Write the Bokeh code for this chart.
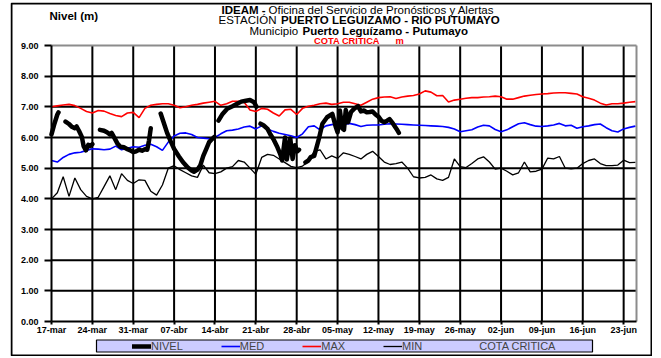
from bokeh.plotting import figure
from bokeh.models import (FixedTicker, Label, Legend, LegendItem, BoxAnnotation,
                          Range1d, PrintfTickFormatter)
from bokeh.embed import file_html
from bokeh.resources import INLINE

NaN = float("nan")

# ---- data (days counted from 17-mar) ----
dias = list(range(101))

med = [5.25, 5.20, 5.35, 5.45, 5.50, 5.52, 5.58, 5.63, 5.62, 5.60,
       5.62, 5.72, 5.60, 5.65, 5.70, 5.68, 5.75, 5.78, 5.70, 5.58,
       5.85, 6.05, 6.14, 6.15, 6.10, 6.00, 5.98, 5.96, 6.00, 6.12,
       6.22, 6.24, 6.28, 6.34, 6.37, 6.28, 6.38, 6.28, 6.20, 6.14,
       6.10, 6.06, 6.00, 6.12, 6.35, 6.38, 6.25, 6.38, 6.42, 6.44,
       6.42, 6.46, 6.42, 6.36, 6.40, 6.41, 6.41, 6.43, 6.45, 6.44,
       6.43, 6.42, 6.41, 6.40, 6.39, 6.38, 6.37, 6.36, 6.33, 6.28,
       6.19, 6.22, 6.25, 6.34, 6.40, 6.38, 6.26, 6.19, 6.25, 6.35,
       6.45, 6.48, 6.42, 6.37, 6.36, 6.38, 6.41, 6.46, 6.38, 6.40,
       6.30, 6.35, 6.38, 6.42, 6.44, 6.32, 6.22, 6.18, 6.28, 6.33,
       6.37]

maximo = [7.00, 7.03, 7.06, 7.08, 7.04, 6.95, 6.85, 6.80, 6.88, 6.86,
          6.78, 6.72, 6.68, 6.80, 6.82, 6.65, 6.95, 7.05, 7.08, 7.10,
          7.10, 7.05, 6.97, 7.00, 7.05, 7.08, 7.12, 7.15, 7.18, 7.05,
          7.10, 7.18, 7.18, 7.15, 6.90, 6.85, 6.95, 6.92, 6.80, 6.70,
          6.90, 6.92, 6.75, 6.95, 7.02, 7.05, 7.10, 7.12, 7.08, 7.10,
          7.15, 7.15, 7.10, 7.05, 7.15, 7.25, 7.30, 7.32, 7.33, 7.27,
          7.32, 7.35, 7.37, 7.42, 7.52, 7.48, 7.36, 7.37, 7.16, 7.22,
          7.25, 7.28, 7.30, 7.30, 7.32, 7.33, 7.35, 7.33, 7.25, 7.25,
          7.30, 7.35, 7.38, 7.40, 7.42, 7.43, 7.45, 7.46, 7.46, 7.44,
          7.42, 7.33, 7.28, 7.22, 7.12, 7.06, 7.10, 7.10, 7.12, 7.15,
          7.17]

minimo = [4.00, 4.20, 4.72, 4.08, 4.68, 4.30, 4.08, 4.00, 4.05, 4.40,
          4.75, 4.30, 4.82, 4.60, 4.50, 4.62, 4.60, 4.25, 4.12, 4.45,
          5.00, 5.08, 4.95, 4.85, 4.75, 4.70, 5.10, 4.85, 4.82, 4.88,
          5.00, 5.05, 5.25, 5.20, 5.00, 4.80, 5.35, 5.45, 5.42, 5.30,
          5.18, 5.06, 5.02, 5.07, 5.22, 5.55, 5.60, 5.30, 5.40, 5.32,
          5.50, 5.45, 5.38, 5.30, 5.45, 5.55, 5.38, 5.20, 5.12, 5.15,
          5.20, 5.00, 4.72, 4.68, 4.70, 4.78, 4.65, 4.60, 4.70, 5.30,
          5.05, 5.02, 5.15, 5.30, 5.37, 5.20, 4.97, 5.00, 4.90, 4.78,
          4.85, 5.20, 4.88, 4.90, 4.97, 5.33, 5.30, 5.38, 5.00, 4.98,
          5.00, 5.15, 5.25, 5.30, 5.15, 5.08, 5.08, 5.10, 5.26, 5.18,
          5.19]

nivel_dia = [0.0, 0.5, 1.0, 1.2, NaN,
             2.4, 3.0, 3.5, 4.0, 4.3, 4.7, 5.2, 5.5, 5.9, 6.3, 6.6, 7.0, NaN,
             8.3, 9.0, 9.5, 10.0, 10.3, 10.8, 11.3, 11.8, 12.4, 13.0, 13.5,
             14.0, 14.5, 15.0, 15.5, 16.0, 16.4, 16.7, 17.0, NaN,
             18.7, 19.2, 19.8, 20.4, 21.0, 21.8, 22.5, 23.3, 24.0, 24.4, 25.0,
             25.5, 26.0, 26.5, 27.0, 27.5, 27.9, NaN,
             28.6, 29.3, 30.1, 31.0, 31.8, 32.5, 33.3, 34.0, 34.7, 35.1, NaN,
             35.8, 36.3, 37.0, 37.5, 38.0, 38.7, 39.2, 39.5, 40.0, 40.3, 40.9,
             41.3, 41.7, 42.1, 42.4, NaN,
             43.5, 44.0, 44.4, 45.0, 45.8, 46.4, 47.2, 48.1, 48.7, 49.0, 49.4,
             49.8, 50.1, 50.4, 50.8, 51.3, 51.9, 52.5, 53.0, 53.5, 54.0, 54.5,
             55.0, 55.5, 56.0, 56.5, 57.0, 57.5, 57.9, 58.5, 59.1, 59.5]
nivel_valor = [6.10, 6.45, 6.75, 6.82, NaN,
               6.52, 6.44, 6.35, 6.30, 6.36, 6.22, 6.02, 5.72, 5.58, 5.76, 5.72, 5.78, NaN,
               6.25, 6.22, 6.17, 6.10, 6.15, 5.98, 5.80, 5.70, 5.68, 5.62, 5.58,
               5.52, 5.55, 5.60, 5.57, 5.62, 5.60, 5.90, 6.30, NaN,
               6.78, 6.50, 6.15, 5.88, 5.63, 5.39, 5.20, 5.03, 4.92, 4.88, 4.95,
               5.10, 5.40, 5.62, 5.85, 5.95, 6.02, NaN,
               6.55, 6.77, 6.94, 7.02, 7.10, 7.17, 7.20, 7.22, 7.15, 7.00, NaN,
               6.45, 6.40, 6.28, 6.10, 5.95, 5.68, 5.45, 5.25, 6.00, 5.28, 5.97,
               5.30, 5.75, 5.55, 5.60, NaN,
               5.19, 5.25, 5.36, 5.40, 5.96, 6.45, 6.66, 6.77, 6.34, 6.17, 6.88,
               6.30, 6.25, 6.90, 6.50, 6.83, 6.95, 7.02, 6.85, 6.88, 6.82, 6.83,
               6.85, 6.75, 6.68, 6.55, 6.50, 6.55, 6.60, 6.45, 6.28, 6.15]

cota_dia = []      # the critical level has no value drawn in the chart
cota_valor = []

tick_dias = [0, 7, 14, 21, 28, 35, 42, 49, 56, 63, 70, 77, 84, 91, 98]
tick_etiquetas = ["17-mar", "24-mar", "31-mar", "07-abr", "14-abr", "21-abr",
                  "28-abr", "05-may", "12-may", "19-may", "26-may", "02-jun",
                  "09-jun", "16-jun", "23-jun"]
y_ticks = [0, 1, 2, 3, 4, 5, 6, 7, 8, 9]

# ---- layout (pixels) ----
FONT = "Liberation Sans"
W, H = 642, 354                 # canvas size
CX0, CY0 = 10, 2                # canvas top-left on the page
PLOT_L, PLOT_R = 51, 636        # plot area on the page
PLOT_T, PLOT_B = 45, 321
X_END = 100.2                   # last day shown
Y_END = 9.0

px_day = (PLOT_R - PLOT_L) / X_END
px_m = (PLOT_B - PLOT_T) / Y_END
x0 = -(PLOT_L - CX0) / px_day
x1 = X_END + (CX0 + W - PLOT_R) / px_day
y0 = -(CY0 + H - PLOT_B) / px_m
y1 = Y_END + (PLOT_T - CY0) / px_m

def dx(page_x):
    return (page_x - PLOT_L) / px_day

def dy(page_y):
    return (PLOT_B - page_y) / px_m

p = figure(width=W, height=H, x_range=Range1d(x0, x1), y_range=Range1d(y0, y1),
           output_backend="svg", toolbar_location=None,
           min_border=0, min_border_left=0, min_border_right=0,
           min_border_top=0, min_border_bottom=0, margin=(CY0, 0, 0, CX0))
p.title.visible = False
p.background_fill_color = "white"
p.border_fill_color = "white"
p.outline_line_color = None
p.xgrid.grid_line_color = None
p.ygrid.grid_line_color = None

for ax in (p.xaxis, p.yaxis):
    ax.fixed_location = 0
    ax.axis_line_color = "black"
    ax.axis_line_width = 2
    ax.major_tick_line_color = "black"
    ax.major_tick_line_width = 2
    ax.minor_tick_line_color = None
    ax.major_tick_in = 0
    ax.major_label_text_font = FONT
    ax.major_label_text_font_style = "bold"
    ax.major_label_text_font_size = "9px"
    ax.major_label_text_color = "black"

p.xaxis.bounds = (0, X_END)
p.xaxis.ticker = FixedTicker(ticks=tick_dias)
p.xaxis.major_label_overrides = dict(zip(tick_dias, tick_etiquetas))
p.xaxis.major_tick_out = 3
p.xaxis.major_label_standoff = 0

p.yaxis.bounds = (0, Y_END)
p.yaxis.ticker = FixedTicker(ticks=y_ticks)
p.yaxis.formatter = PrintfTickFormatter(format="%.2f")
p.yaxis.major_tick_out = 7
p.yaxis.major_label_standoff = 6

# outer chart border
p.add_layout(BoxAnnotation(left=dx(11), right=dx(651), top=dy(3), bottom=dy(355),
                           fill_alpha=0, line_color="black", line_alpha=1,
                           line_width=2))

# grid lines and plot-area border
gx = tick_dias[1:]
gy = y_ticks[1:-1]
p.segment(x0=gx, y0=[0] * len(gx), x1=gx, y1=[Y_END] * len(gx),
          line_color="black", line_width=2)
p.segment(x0=[0] * len(gy), y0=gy, x1=[X_END] * len(gy), y1=gy,
          line_color="black", line_width=2)
p.segment(x0=[0, X_END], y0=[Y_END, 0], x1=[X_END, X_END], y1=[Y_END, Y_END],
          line_color="#8c8c8c", line_width=2)

r_min = p.line(dias, minimo, line_color="black", line_width=1.3)
r_med = p.line(dias, med, line_color="#0000ff", line_width=1.6)
r_max = p.line(dias, maximo, line_color="#ff0000", line_width=1.6)
r_nivel = p.line(nivel_dia, nivel_valor, line_color="black", line_width=4.5,
                 line_cap="round", line_join="round")
r_cota = p.line(cota_dia, cota_valor, line_color="#ff0000", line_width=4.5)

# legend box
p.add_layout(BoxAnnotation(left=dx(96), right=dx(592), top=dy(339.5), bottom=dy(351.5),
                           fill_color="#ccccff", fill_alpha=1,
                           line_color="black", line_alpha=1, line_width=1.2))

legend = Legend(items=[LegendItem(label="NIVEL", renderers=[r_nivel]),
                       LegendItem(label="MED", renderers=[r_med]),
                       LegendItem(label="MAX", renderers=[r_max]),
                       LegendItem(label="MIN", renderers=[r_min]),
                       LegendItem(label="COTA CRITICA", renderers=[r_cota])],
                orientation="horizontal", location=(132 - CX0, CY0 + H - 351.5),
                padding=0, margin=0, spacing=38, glyph_width=19, glyph_height=12,
                label_height=12, label_width=0, label_standoff=0,
                label_text_font=FONT, label_text_font_size="11px",
                background_fill_alpha=0, border_line_alpha=0)
p.add_layout(legend)

# titles (page coordinates converted to frame-relative screen units)
def txt(page_x, page_y, s, size="11.5px", style="normal", color="black"):
    p.add_layout(Label(x=page_x - CX0, y=CY0 + H - page_y, x_units="screen",
                       y_units="screen", text=s, text_font=FONT,
                       text_font_size=size, text_font_style=style,
                       text_color=color, text_baseline="middle", text_align="left"))

txt(221, 9, "IDEAM -", style="bold")
txt(268, 9, "Oficina del Servicio de Pronósticos y Alertas")
txt(218, 19.5, "ESTACIÓN")
txt(280.6, 19.5, "PUERTO LEGUIZAMO  - RIO PUTUMAYO", style="bold")
txt(249, 30, "Municipio")
txt(302, 30, "Puerto Leguízamo - Putumayo", style="bold")
txt(313.5, 40, "COTA CRÍTICA", size="9.3px", style="bold", color="#ff0000")
txt(395, 40, "m", size="9.3px", style="bold", color="#ff0000")
txt(49, 15, "Nivel (m)", style="bold")

open("out.html", "w").write(file_html(p, INLINE))
